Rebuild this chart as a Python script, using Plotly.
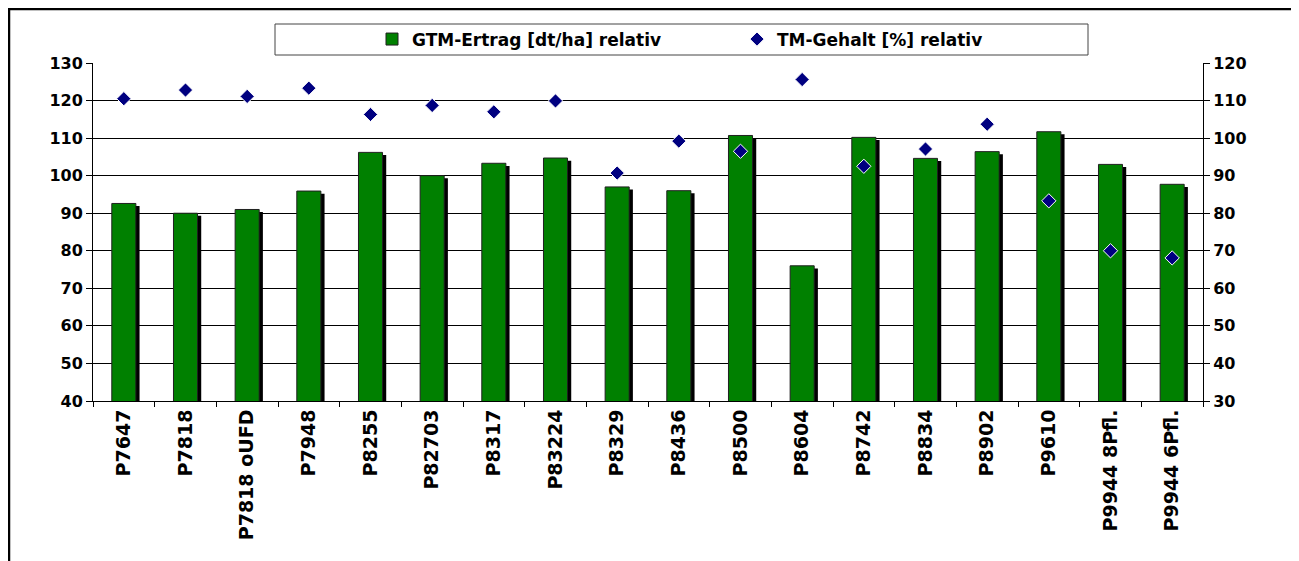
import plotly.graph_objects as go

categories = ["P7647", "P7818", "P7818 oUFD", "P7948", "P8255", "P82703", "P8317",
              "P83224", "P8329", "P8436", "P8500", "P8604", "P8742", "P8834",
              "P8902", "P9610", "P9944 8Pfl.", "P9944 6Pfl."]
gtm_ertrag = [92.6, 90.0, 91.0, 95.9, 106.2, 100.0, 103.3, 104.7, 97.0, 96.0,
              110.7, 76.0, 110.2, 104.6, 106.4, 111.7, 103.0, 97.7]
tm_gehalt = [110.5, 112.8, 111.1, 113.3, 106.3, 108.7, 107.0, 109.9, 90.7, 99.2,
             96.5, 115.6, 92.5, 97.1, 103.7, 83.3, 70.0, 68.1]

FONT = dict(family="DejaVu Sans", size=16, color="black", weight="bold")
XFONT = dict(family="DejaVu Sans", size=19, color="black", weight="bold")
LFONT = dict(family="DejaVu Sans", size=17, color="black", weight="bold")
BAR_W = 0.39

fig = go.Figure()
# shadow of bars (3D effect)
fig.add_trace(go.Bar(
    x=categories, y=[v - 0.7 for v in gtm_ertrag], width=BAR_W, offset=-BAR_W / 2 + 0.06,
    marker=dict(color="black", line=dict(width=0)), showlegend=False, hoverinfo="skip"))
fig.add_trace(go.Bar(
    x=categories, y=gtm_ertrag, width=BAR_W, offset=-BAR_W / 2,
    name="GTM-Ertrag [dt/ha] relativ",
    marker=dict(color="#008000", line=dict(color="#202020", width=1))))
fig.add_trace(go.Scatter(
    x=categories, y=tm_gehalt, mode="markers", yaxis="y2",
    name="TM-Gehalt [%] relativ",
    marker=dict(symbol="diamond", size=11, color="#000080", line=dict(color="white", width=1))))

# page body has an 8px margin, so figure coordinates = screen coordinates - 8
OFF = 8
W, H = 1299 - OFF, 561 - OFF
L, T = 93 - OFF, 63 - OFF
R, B = W - (1203 - OFF), H - (401 - OFF)
PW, PH = W - L - R, H - T - B


def px(xs):
    return (xs - OFF - L) / PW


def py(ys):
    return (H - B - (ys - OFF)) / PH


fig.update_layout(
    width=W, height=H,
    margin=dict(l=L, r=R, t=T, b=B, autoexpand=False),
    paper_bgcolor="white", plot_bgcolor="white",
    barmode="overlay",
    font=FONT,
    showlegend=True,
    legend=dict(orientation="h", x=px(372), xanchor="left",
                yref="container", y=1 - (39.5 - OFF) / H, yanchor="middle",
                bgcolor="rgba(0,0,0,0)", borderwidth=0, font=LFONT,
                entrywidth=320, entrywidthmode="pixels", itemwidth=30),
    xaxis=dict(type="category", range=[-0.5, len(categories) - 0.5], automargin=False,
               tickangle=-90, ticks="outside", ticklen=5, tickson="boundaries",
               showline=True, linecolor="black", linewidth=1, showgrid=False,
               tickfont=XFONT, tickcolor="black"),
    yaxis=dict(range=[40, 130], dtick=10, ticks="outside", ticklen=6, tickcolor="black",
               automargin=False,
               showline=True, linecolor="black", linewidth=1, showgrid=True,
               gridcolor="black", gridwidth=1, zeroline=False, tickfont=FONT),
    yaxis2=dict(range=[30, 120], dtick=10, overlaying="y", side="right", ticks="outside",
                automargin=False,
                ticklen=6, tickcolor="black", showline=True, linecolor="black", linewidth=1,
                showgrid=False, zeroline=False, tickfont=FONT),
    shapes=[
        dict(type="rect", xref="paper", yref="paper", x0=px(275), x1=px(1088), y0=py(55), y1=py(24),
             line=dict(color="#444444", width=1), fillcolor="rgba(0,0,0,0)", layer="above"),
        dict(type="rect", xref="paper", yref="paper", x0=px(9), x1=px(1340), y0=py(640), y1=py(9),
             line=dict(color="black", width=2.5), fillcolor="rgba(0,0,0,0)", layer="above"),
    ],
)

fig.write_html("out.html")
